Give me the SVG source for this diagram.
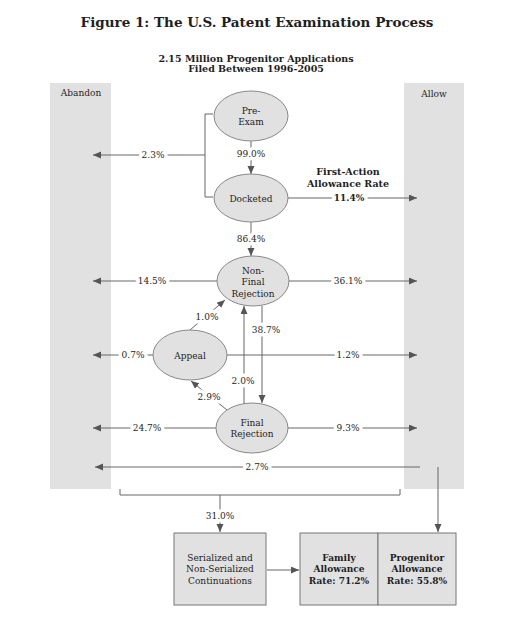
<svg xmlns="http://www.w3.org/2000/svg" width="527" height="633" viewBox="0 0 527 633">
<style>
text{font-family:"DejaVu Serif","Liberation Serif",serif;fill:#1e1e1e;text-anchor:middle}
.t{font-size:9px}
.b{font-weight:bold}
.lbl{font-size:9px;stroke:#fff;stroke-width:7;paint-order:stroke;stroke-linejoin:round}
.panel{fill:#e1e1e1}
.node{fill:#e1e1e1;stroke:#888;stroke-width:1}
.box{fill:#e1e1e1;stroke:#777;stroke-width:1}
.ln{fill:none;stroke:#666;stroke-width:1}
</style>
<defs>
<marker id="ah" markerUnits="userSpaceOnUse" markerWidth="9" markerHeight="8" refX="8" refY="3.5" orient="auto">
<path d="M0,0 L8,3.5 L0,7 z" fill="#555"/>
</marker>
</defs>
<rect width="527" height="633" fill="#fff"/>
<text x="257" y="27" class="b" style="font-size:13.5px">Figure 1: The U.S. Patent Examination Process</text>
<text x="256" y="62" class="b" style="font-size:9.5px">2.15 Million Progenitor Applications</text>
<text x="256" y="72" class="b" style="font-size:9.5px">Filed Between 1996-2005</text>

<g id="abandon"><rect class="panel" x="50" y="83" width="61" height="406"/><text x="81" y="96" class="t">Abandon</text></g>
<g id="allow"><rect class="panel" x="404" y="83" width="60" height="406"/><text x="434" y="97" class="t">Allow</text></g>

<g id="connectors">
<path class="ln" d="M251,141 V174" marker-end="url(#ah)"/>
<path class="ln" d="M251,222 V256" marker-end="url(#ah)"/>
<path class="ln" d="M213,114 H205 V197 H213"/>
<path class="ln" d="M205,155 H93" marker-end="url(#ah)"/>
<path class="ln" d="M288,198 H417" marker-end="url(#ah)"/>
<path class="ln" d="M217,281 H93" marker-end="url(#ah)"/>
<path class="ln" d="M289,281 H417" marker-end="url(#ah)"/>
<path class="ln" d="M153,355 H93" marker-end="url(#ah)"/>
<path class="ln" d="M227,355 H417" marker-end="url(#ah)"/>
<path class="ln" d="M216,428 H93" marker-end="url(#ah)"/>
<path class="ln" d="M288,428 H417" marker-end="url(#ah)"/>
<path class="ln" d="M420,467 H95" marker-end="url(#ah)"/>
<path class="ln" d="M438,467 V532" marker-end="url(#ah)"/>
<path class="ln" d="M120,489 V495 H400 V489"/>
<path class="ln" d="M220,495 V532" marker-end="url(#ah)"/>
<path class="ln" d="M267,570 H299" marker-end="url(#ah)"/>
<path class="ln" d="M190,330 L225,300" marker-end="url(#ah)"/>
<path class="ln" d="M227,410 L191,381" marker-end="url(#ah)"/>
<path class="ln" d="M244,404 V306" marker-end="url(#ah)"/>
<path class="ln" d="M262,306 V403" marker-end="url(#ah)"/>
<text x="251" y="157" class="lbl">99.0%</text>
<text x="251" y="242" class="lbl">86.4%</text>
<text x="153" y="158" class="lbl">2.3%</text>
<text x="348" y="175" class="b" style="font-size:9.5px">First-Action</text>
<text x="348" y="187" class="b" style="font-size:9.5px">Allowance Rate</text>
<text x="349" y="201" class="lbl b">11.4%</text>
<text x="152" y="284" class="lbl">14.5%</text>
<text x="348" y="284" class="lbl">36.1%</text>
<text x="133" y="358" class="lbl">0.7%</text>
<text x="348" y="358" class="lbl">1.2%</text>
<text x="147" y="431" class="lbl">24.7%</text>
<text x="348" y="431" class="lbl">9.3%</text>
<text x="257" y="470" class="lbl">2.7%</text>
<text x="220" y="519" class="lbl">31.0%</text>
<text x="207" y="320" class="lbl">1.0%</text>
<text x="209" y="400" class="lbl">2.9%</text>
<text x="243" y="384" class="lbl">2.0%</text>
<text x="266" y="333" class="lbl">38.7%</text>
</g>

<g id="pre-exam"><ellipse class="node" cx="251" cy="116" rx="37" ry="25"/><text x="251" y="114" class="t">Pre-</text><text x="251" y="125" class="t">Exam</text></g>
<g id="docketed"><ellipse class="node" cx="251" cy="198" rx="37" ry="24"/><text x="251" y="202" class="t">Docketed</text></g>
<g id="non-final"><ellipse class="node" cx="253" cy="281" rx="36" ry="25"/><text x="253" y="274" class="t">Non-</text><text x="253" y="285" class="t">Final</text><text x="253" y="297" class="t">Rejection</text></g>
<g id="appeal"><ellipse class="node" cx="190" cy="355" rx="37" ry="25"/><text x="190" y="359" class="t">Appeal</text></g>
<g id="final"><ellipse class="node" cx="252" cy="428" rx="36" ry="25"/><text x="252" y="426" class="t">Final</text><text x="252" y="437" class="t">Rejection</text></g>

<g id="continuations"><rect class="box" x="174" y="533" width="92" height="72"/><text x="220" y="561" class="t">Serialized and</text><text x="220" y="572" class="t">Non-Serialized</text><text x="220" y="584" class="t">Continuations</text></g>
<g id="family"><rect class="box" x="300" y="533" width="78" height="72"/><text x="339" y="561" class="t b">Family</text><text x="339" y="572" class="t b">Allowance</text><text x="339" y="584" class="t b">Rate: 71.2%</text></g>
<g id="progenitor"><rect class="box" x="378" y="533" width="78" height="72"/><text x="417" y="561" class="t b">Progenitor</text><text x="417" y="572" class="t b">Allowance</text><text x="417" y="584" class="t b">Rate: 55.8%</text></g>
</svg>
